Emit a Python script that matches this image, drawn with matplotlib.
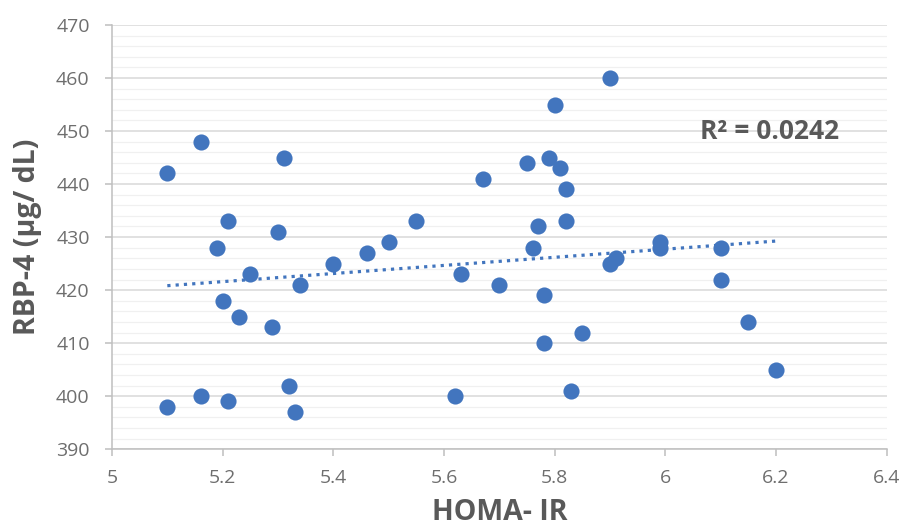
import numpy as np
import matplotlib
matplotlib.use("Agg")
import matplotlib.pyplot as plt
from matplotlib.ticker import MultipleLocator

# HOMA-IR vs RBP-4 values
homa_ir = [5.10, 5.10, 5.16, 5.16, 5.19, 5.21, 5.20, 5.23, 5.21, 5.25,
           5.31, 5.30, 5.29, 5.32, 5.33, 5.34, 5.40, 5.46, 5.50, 5.55,
           5.62, 5.63, 5.67, 5.70, 5.75, 5.76, 5.77, 5.79, 5.80, 5.81,
           5.82, 5.82, 5.78, 5.78, 5.85, 5.83, 5.90, 5.90, 5.91, 5.99,
           5.99, 6.10, 6.10, 6.15, 6.20]
rbp4 = [442, 398, 448, 400, 428, 433, 418, 415, 399, 423,
        445, 431, 413, 402, 397, 421, 425, 427, 429, 433,
        400, 423, 441, 421, 444, 428, 432, 445, 455, 443,
        439, 433, 419, 410, 412, 401, 460, 425, 426, 429,
        428, 428, 422, 414, 405]

r2_label = "R\u00b2 = 0.0242"
x_ticks = [5, 5.2, 5.4, 5.6, 5.8, 6, 6.2, 6.4]
x_tick_labels = ["5", "5.2", "5.4", "5.6", "5.8", "6", "6.2", "6.4"]

plt.rcParams["font.family"] = ["Open Sans", "DejaVu Sans"]

fig = plt.figure(figsize=(9.03, 5.31), dpi=100)
ax = fig.add_axes([0.124, 0.154, 0.858, 0.799])

blue = "#4275BE"
text_grey = "#595959"

ax.scatter(homa_ir, rbp4, s=135, color=blue, zorder=3, linewidths=0)

# linear trendline over the data range
x = np.array(homa_ir)
slope, intercept = np.polyfit(x, np.array(rbp4), 1)
xl = np.array([x.min(), x.max()])
ax.plot(xl, slope * xl + intercept, linestyle=(0, (1, 1.6)), color=blue,
        linewidth=2.3, zorder=2)

ax.text(0.849, 0.75, r2_label, transform=ax.transAxes, fontsize=19,
        fontweight="bold", color="#595959", ha="center", va="center")

ax.set_xlim(5, 6.4)
ax.set_ylim(390, 470)
ax.set_xticks(x_ticks)
ax.set_xticklabels(x_tick_labels)
ax.yaxis.set_major_locator(MultipleLocator(10))
ax.yaxis.set_minor_locator(MultipleLocator(2))

ax.grid(axis="y", which="major", color="#D9D9D9", linewidth=1.1, zorder=0)
ax.grid(axis="y", which="minor", color="#F0F0F0", linewidth=0.9, zorder=0)
ax.set_axisbelow(True)

for side in ["top", "right"]:
    ax.spines[side].set_visible(False)
for side in ["left", "bottom"]:
    ax.spines[side].set_color("#BFBFBF")
    ax.spines[side].set_linewidth(1.1)

ax.tick_params(axis="both", which="major", colors="#BFBFBF", labelcolor="#6E6E6E",
               labelsize=14, length=5, width=1.1)
ax.tick_params(axis="y", which="minor", length=0)
ax.tick_params(axis="x", pad=9)
ax.tick_params(axis="y", pad=11)

ax.set_xlabel("HOMA- IR", fontsize=20.5, fontweight="bold", color=text_grey, labelpad=8)
ax.set_ylabel("RBP-4 (\u00b5g/ dL)", fontsize=20.5, fontweight="bold", color=text_grey, labelpad=10)

fig.savefig("out.png", dpi=100, facecolor="white")
